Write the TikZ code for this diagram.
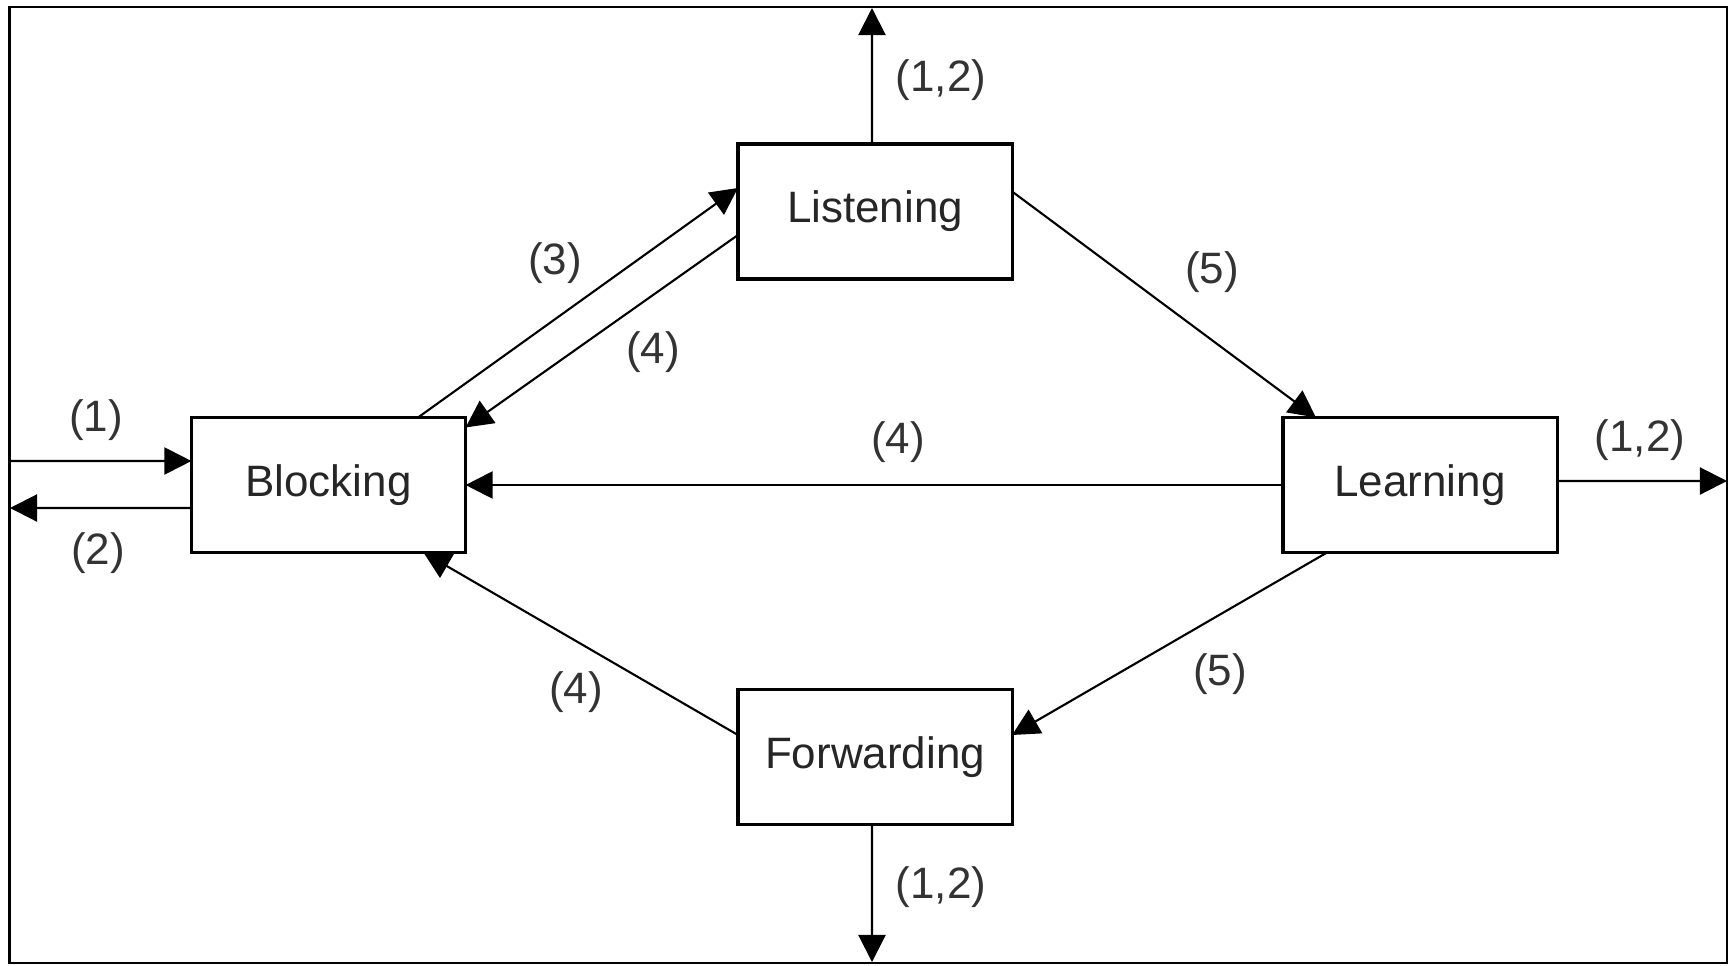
\documentclass[tikz,border=0pt]{standalone}
\usepackage{fontspec}
\setmainfont{Liberation Sans}
\usetikzlibrary{arrows.meta}
\begin{document}
\begin{tikzpicture}[x=0.01cm,y=-0.01cm,
  state/.style={draw,line width=0.9pt,minimum width=2.74cm,minimum height=1.35cm,inner sep=0pt,outer sep=0pt,font=\fontsize{12.5}{15}\selectfont,text=black!85},
  lbl/.style={font=\fontsize{12.5}{15}\selectfont,text=black!80,inner sep=0pt},
  conn/.style={line width=0.6pt,-{Triangle[length=2.7mm,width=2.7mm]}}]
\useasboundingbox (0,0) rectangle (1729,966);
\draw[line width=0.7pt] (9.5,7) rectangle (1727,963);
% states
\node[state] (lis) at (875,211.5) {Listening};
\node[state] (blk) at (328.5,485) {Blocking};
\node[state] (lrn) at (1420,485) {Learning};
\node[state] (fwd) at (875,757) {Forwarding};
% free ends
\coordinate (intop) at (872,8);
\coordinate (inbot) at (872,962);
\coordinate (inright) at (1727,481);
\coordinate (inl1) at (10,461);
\coordinate (inl2) at (10,508);
% connectors
\draw[conn] (inl1) -- ([yshift=0.24cm]blk.west);
\draw[conn] ([yshift=-0.23cm]blk.west) -- (inl2);
\draw[conn] ([xshift=0.895cm]blk.north) -- ([yshift=0.235cm]lis.west);
\draw[conn] ([yshift=-0.235cm]lis.west) -- ([yshift=-0.1cm]blk.north east);
\draw[conn] ([yshift=0.2cm]lis.east) -- ([xshift=-1.04cm]lrn.north);
\draw[conn] ([xshift=-0.93cm]lrn.south) -- ([yshift=0.22cm]fwd.east);
\draw[conn] ([yshift=0.22cm]fwd.west) -- ([xshift=0.95cm]blk.south);
\draw[conn] (lrn.west) -- (blk.east);
\draw[conn] ([xshift=-0.03cm]lis.north) -- (intop);
\draw[conn] ([xshift=-0.03cm]fwd.south) -- (inbot);
\draw[conn] ([yshift=0.04cm]lrn.east) -- (inright);
% labels
\node[lbl] (l1) at (96,420) {(1)};
\node[lbl] (l2) at (98,553) {(2)};
\node[lbl] (l3) at (555,263) {(3)};
\node[lbl] (l4a) at (653,352) {(4)};
\node[lbl] (l4b) at (898,442) {(4)};
\node[lbl] (l5a) at (1212,272) {(5)};
\node[lbl] (l5b) at (1220,674) {(5)};
\node[lbl] (l4c) at (576,692) {(4)};
\node[lbl] (l12t) at (941,80) {(1,2)};
\node[lbl] (l12r) at (1640,440) {(1,2)};
\node[lbl] (l12b) at (941,887) {(1,2)};
\end{tikzpicture}
\end{document}
